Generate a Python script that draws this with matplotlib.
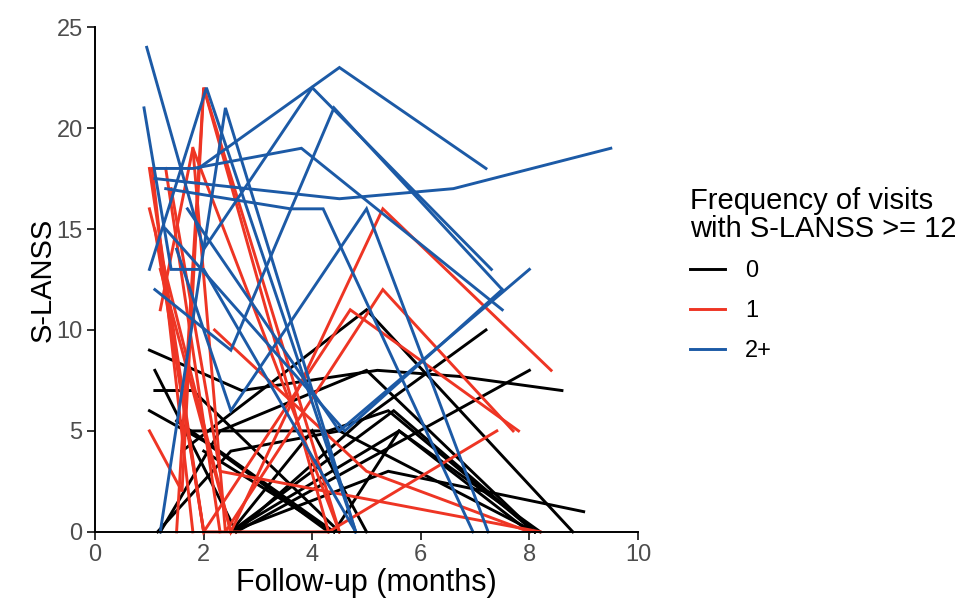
import matplotlib
matplotlib.use("Agg")
from matplotlib import pyplot as plt
from matplotlib.lines import Line2D

# trajectories per patient, grouped by frequency of visits with S-LANSS >= 12
black_x = [[1.0, 2.7, 5.2, 6.7, 8.6], [1.1, 2.6, 4.9, 7.2], [1.1, 1.8, 4.5], [1.0, 2.0, 4.3],
           [1.75, 4.3, 5.4, 8.1], [1.6, 5.0, 8.8], [1.2, 2.3, 5.0, 8.1], [2.5, 5.5, 8.1],
           [2.5, 5.6, 8.0], [2.5, 5.4, 9.0], [2.6, 8.0], [1.5, 4.4], [2.0, 4.4],
           [4.4, 5.6, 8.2], [1.15, 2.5, 4.5, 8.1], [2.5, 4.0, 5.0]]
black_y = [[9, 7, 8, 7.7, 7], [8, 0, 5.5, 10], [7, 7, 0], [6, 4.5, 0],
           [5, 5, 6, 0], [4, 11, 0], [0, 5, 8, 0], [0, 6, 0],
           [0, 5, 0], [0, 3, 1], [0, 8], [5.5, 0], [4, 0],
           [0, 5, 0], [0, 4, 5, 0], [0, 5, 0]]

red_x = [[1.0, 2.0], [1.05, 1.8], [1.3, 2.3], [1.0, 2.5], [1.0, 1.6, 2.0, 4.3],
         [1.2, 1.8, 4.5], [1.5, 2.0, 4.5], [1.2, 2.5, 5.3, 8.4], [1.8, 2.4, 5.3, 7.7],
         [1.3, 2.0, 4.7, 7.8], [2.2, 5.0, 8.0], [1.1, 2.0, 4.3, 7.4], [1.4, 2.3, 8.2]]
red_y = [[18, 0], [18, 0], [18, 0], [16, 0], [5, 2, 22, 0],
         [11, 19, 0], [0, 22, 0], [13, 0, 16, 8], [19, 0, 12, 5],
         [12, 0, 11, 5], [10, 3, 0], [15, 0, 0, 5], [17, 3, 0]]

blue_x = [[0.95, 2.0, 4.0, 7.3], [0.9, 1.4, 2.0, 4.8], [1.0, 2.05, 4.8], [1.1, 1.8, 3.8, 7.5],
          [1.1, 4.5, 6.6, 9.5], [1.1, 2.5, 4.4, 7.5], [1.9, 4.5, 7.2], [1.2, 2.4, 4.8],
          [1.7, 4.5, 8.0], [1.3, 4.6, 7.5], [1.3, 3.6, 4.2, 6.96], [1.5, 2.5, 5.0, 7.24]]
blue_y = [[24, 14, 22, 13], [21, 13, 13, 0], [13, 22, 0], [18, 18, 19, 11],
          [17.5, 16.5, 17, 19], [12, 9, 21, 12], [18, 23, 18], [0, 21, 0],
          [16, 5, 13], [15, 5, 12], [17, 16, 16, 0], [14, 6, 16, 0]]

groups = ["0", "1", "2+"]
colors = ["#000000", "#EE3524", "#1C5AA6"]

plt.rcParams['font.family'] = ['Liberation Sans', 'DejaVu Sans']

fig = plt.figure(figsize=(9.71, 6.03), dpi=100)
ax = fig.add_axes([0.098, 0.118, 0.559, 0.837])

for xs, ys, c in [(black_x, black_y, colors[0]), (red_x, red_y, colors[1]), (blue_x, blue_y, colors[2])]:
    for x, y in zip(xs, ys):
        ax.plot(x, y, color=c, lw=2.1, solid_joinstyle='miter', clip_on=False)

ax.set_xlim(0, 10)
ax.set_ylim(0, 25)
ax.set_xticks([0, 2, 4, 6, 8, 10])
ax.set_yticks([0, 5, 10, 15, 20, 25])
for s in ['top', 'right']:
    ax.spines[s].set_visible(False)
for s in ['left', 'bottom']:
    ax.spines[s].set_linewidth(1.4)
ax.tick_params(labelsize=17, labelcolor='#4D4D4D', length=6, width=1.4, color='#333333', pad=3)
ax.set_xlabel("Follow-up (months)", fontsize=22, labelpad=1)
ax.set_ylabel("S-LANSS", fontsize=21, labelpad=0)

handles = [Line2D([0], [0], color=c, lw=2.1) for c in colors]
leg = fig.legend(handles, groups, title="Frequency of visits\nwith S-LANSS >= 12",
                 loc='upper left', bbox_to_anchor=(0.698, 0.71), frameon=False,
                 fontsize=17, title_fontsize=21, handlelength=1.5, handletextpad=0.85,
                 labelspacing=0.75, borderpad=0, alignment='left')
leg.get_title().set_linespacing(1.0)

fig.savefig("out.png", dpi=100)
